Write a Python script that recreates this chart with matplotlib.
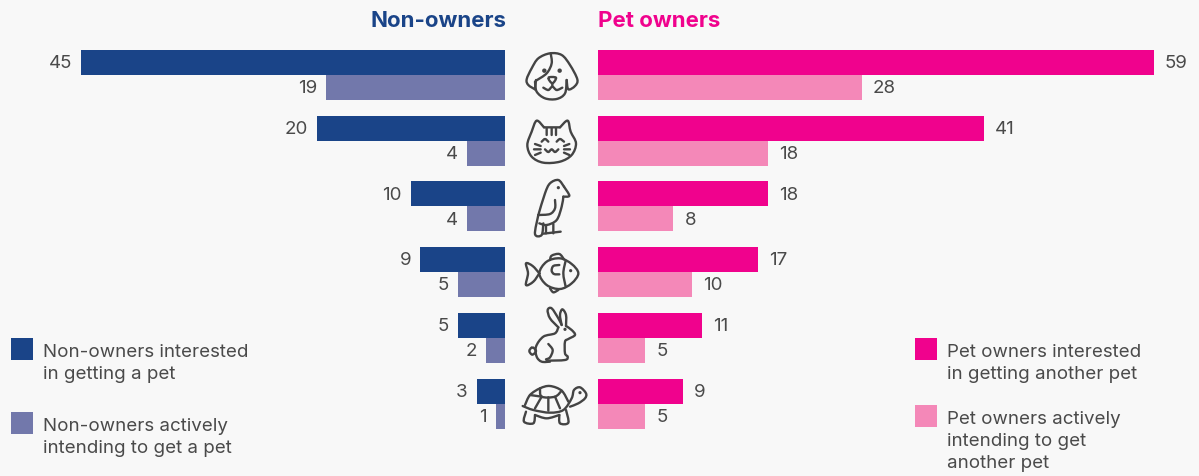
import matplotlib
matplotlib.use("Agg")
import matplotlib.pyplot as plt
from matplotlib.path import Path
from matplotlib.patches import PathPatch, Circle, Rectangle

animals = ["Dog", "Cat", "Bird", "Fish", "Rabbit", "Turtle"]
non_interested = [45, 20, 10, 9, 5, 3]
non_intending = [19, 4, 4, 5, 2, 1]
own_interested = [59, 41, 18, 17, 11, 9]
own_intending = [28, 18, 8, 10, 5, 5]

legend_left = ["Non-owners interested\nin getting a pet", "Non-owners actively\nintending to get a pet"]
legend_right = ["Pet owners interested\nin getting another pet", "Pet owners actively\nintending to get\nanother pet"]

W, H = 1199, 476
BG = "#f8f8f8"
NAVY = "#1a4488"
NAVY_L = "#7278ab"
PINK = "#f0028d"
PINK_L = "#f488b8"
TXT = "#4a4a4a"
ICON = "#444444"
plt.rcParams["font.family"] = "Inter"

PX_UNIT = 9.42   # pixels per value
ROW = 65.7       # pixels between rows
Y0 = 75          # first row centre, px
BAR_H = 25 / ROW


def px_axes(x0, x1):
    return fig.add_axes([x0 / W, 0, (x1 - x0) / W, 1])


def curve(pts, closed=False):
    # catmull-rom through the points, as bezier segments
    n = len(pts)
    verts = [pts[0]]
    codes = [Path.MOVETO]
    segs = n if closed else n - 1
    for i in range(segs):
        if closed:
            p0, p1, p2, p3 = pts[(i - 1) % n], pts[i], pts[(i + 1) % n], pts[(i + 2) % n]
        else:
            p0, p1, p2, p3 = pts[max(i - 1, 0)], pts[i], pts[i + 1], pts[min(i + 2, n - 1)]
        c1 = (p1[0] + (p2[0] - p0[0]) / 6, p1[1] + (p2[1] - p0[1]) / 6)
        c2 = (p2[0] - (p3[0] - p1[0]) / 6, p2[1] - (p3[1] - p1[1]) / 6)
        verts += [c1, c2, p2]
        codes += [Path.CURVE4] * 3
    return Path(verts, codes)


def draw_icon(ax, ox, oy, lines, loops=(), dots=()):
    conv = lambda pts: [(ox + x / 3, oy + y / 3) for x, y in pts]
    for pts in lines:
        ax.add_patch(PathPatch(curve(conv(pts)), fc="none", ec=ICON, lw=1.7, capstyle="round", joinstyle="round"))
    for pts in loops:
        ax.add_patch(PathPatch(curve(conv(pts), closed=True), fc="none", ec=ICON, lw=1.7, joinstyle="round"))
    for x, y, r in dots:
        ax.add_patch(Circle((ox + x / 3, oy + y / 3), r, fc=ICON, ec="none"))


fig = plt.figure(figsize=(W / 100, H / 100), dpi=100, facecolor=BG)

rows = list(range(len(animals)))
ylim = ((H - Y0) / ROW, -Y0 / ROW)

axl = px_axes(0, 505)
axl.set_xlim(505 / PX_UNIT, 0)
axr = px_axes(598, W)
axr.set_xlim(0, (W - 598) / PX_UNIT)

for ax, first, second, c1, c2, pad in [
    (axl, non_interested, non_intending, NAVY, NAVY_L, 6.5),
    (axr, own_interested, own_intending, PINK, PINK_L, 8),
]:
    ax.set_ylim(*ylim)
    ax.axis("off")
    b1 = ax.barh([r - BAR_H / 2 for r in rows], first, height=BAR_H, color=c1)
    b2 = ax.barh([r + BAR_H / 2 for r in rows], second, height=BAR_H, color=c2)
    for b in (b1, b2):
        for lab in ax.bar_label(b, padding=pad, fontsize=13.5, color=TXT):
            lab.xyann = (lab.xyann[0], -0.9)

ov = fig.add_axes([0, 0, 1, 1])
ov.set_xlim(0, W)
ov.set_ylim(H, 0)
ov.axis("off")
ov.patch.set_alpha(0)

ov.text(506, 21, "Non-owners", color=NAVY, fontsize=16, fontweight="bold", ha="right", va="center")
ov.text(598, 21, "Pet owners", color=PINK, fontsize=16, fontweight="bold", ha="left", va="center")

# legends
for x, y, col, label in [
    (11, 338, NAVY, legend_left[0]),
    (11, 412, NAVY_L, legend_left[1]),
    (915, 338, PINK, legend_right[0]),
    (915, 405, PINK_L, legend_right[1]),
]:
    ov.add_patch(Rectangle((x, y), 22, 22, fc=col, ec="none"))
    ov.text(x + 32, y + 6, label, color=TXT, fontsize=13.5, va="top", ha="left", linespacing=1.39)

# dog
draw_icon(ov, 500, 40, [
    [(105, 148), (85, 135), (80, 118), (95, 85), (115, 55), (150, 40), (185, 45), (210, 75), (232, 118), (225, 138), (205, 148), (200, 120)],
    [(105, 148), (108, 120)],
    [(152, 40), (155, 70), (140, 100), (108, 122)],
    [(105, 125), (110, 155), (135, 175), (170, 177), (195, 160), (200, 120)],
    [(130, 143), (145, 150), (157, 140), (170, 150), (187, 143)],
    [(157, 130), (157, 140)],
], loops=[[(145, 113), (168, 113), (157, 130)]], dots=[(133, 92, 2.2), (179, 92, 2.2)])

# cat
draw_icon(ov, 500, 40, [
    [(132, 262), (110, 242), (95, 275), (82, 315), (95, 350), (130, 368), (180, 365), (215, 345), (228, 310), (212, 275), (203, 242), (180, 262)],
    [(132, 262), (180, 262)],
    [(140, 265), (140, 285)], [(155, 265), (155, 285)], [(168, 265), (168, 285)],
    [(125, 305), (135, 297), (145, 305)], [(170, 305), (180, 297), (192, 305)],
    [(135, 328), (145, 336), (155, 328), (165, 336), (175, 328)],
    [(105, 312), (122, 318)], [(102, 328), (122, 328)], [(105, 345), (122, 338)],
    [(192, 318), (208, 312)], [(192, 328), (210, 328)], [(192, 338), (208, 345)],
])

# bird
draw_icon(ov, 500, 40, [
    [(115, 525), (135, 460), (150, 430), (175, 420), (192, 440)],
    [(192, 440), (208, 467), (190, 470)],
    [(190, 470), (185, 500), (170, 540), (140, 555), (118, 550)],
    [(115, 525), (105, 582), (125, 585), (130, 550)],
    [(115, 525), (150, 522), (165, 505), (165, 480)],
    [(138, 555), (138, 580)], [(160, 552), (160, 580)], [(130, 581), (182, 575)],
], dots=[(175, 443, 1.6)])

# fish
draw_icon(ov, 500, 240, [
    [(118, 100), (98, 78), (78, 70), (84, 100), (78, 135), (100, 125), (118, 100)],
    [(197, 62), (190, 100), (197, 140)],
    [(178, 75), (160, 78), (155, 92), (162, 102), (178, 103)],
    [(150, 60), (155, 47), (178, 42), (192, 58)],
    [(150, 145), (160, 157), (175, 150)],
], loops=[[(118, 100), (140, 65), (180, 55), (215, 72), (235, 100), (215, 130), (180, 147), (140, 135)]],
    dots=[(212, 92, 1.6)])

# rabbit
draw_icon(ov, 500, 240, [
    [(175, 262), (150, 235), (143, 210), (155, 205), (175, 235), (185, 255)],
    [(185, 255), (180, 225), (187, 208), (198, 225), (198, 258)],
    [(198, 258), (215, 270), (225, 285), (205, 297), (195, 305), (195, 340), (203, 350), (195, 360), (140, 362)],
    [(175, 262), (165, 280), (130, 290), (108, 320), (110, 350), (125, 365), (150, 365)],
    [(145, 312), (158, 330), (150, 352), (138, 358)],
], loops=[[(97, 322), (108, 333), (97, 344), (88, 333)]], dots=[(195, 268, 1.6)])

# turtle
draw_icon(ov, 500, 240, [
    [(75, 495), (90, 465), (120, 445), (150, 438), (185, 452), (205, 485)],
    [(68, 498), (100, 510), (150, 518), (190, 510), (215, 475), (222, 450), (240, 442), (258, 460), (255, 475), (235, 490), (210, 500)],
    [(78, 515), (72, 545), (100, 550), (105, 525)],
    [(178, 525), (180, 550), (205, 548), (198, 510)],
    [(105, 525), (140, 535), (178, 525)],
    [(120, 445), (125, 470), (165, 470), (185, 452)],
    [(125, 470), (105, 505)], [(145, 472), (145, 512)], [(165, 470), (180, 505)],
    [(90, 465), (125, 470)],
], dots=[(240, 458, 1.6)])

fig.savefig("out.png", dpi=100, facecolor=BG)
